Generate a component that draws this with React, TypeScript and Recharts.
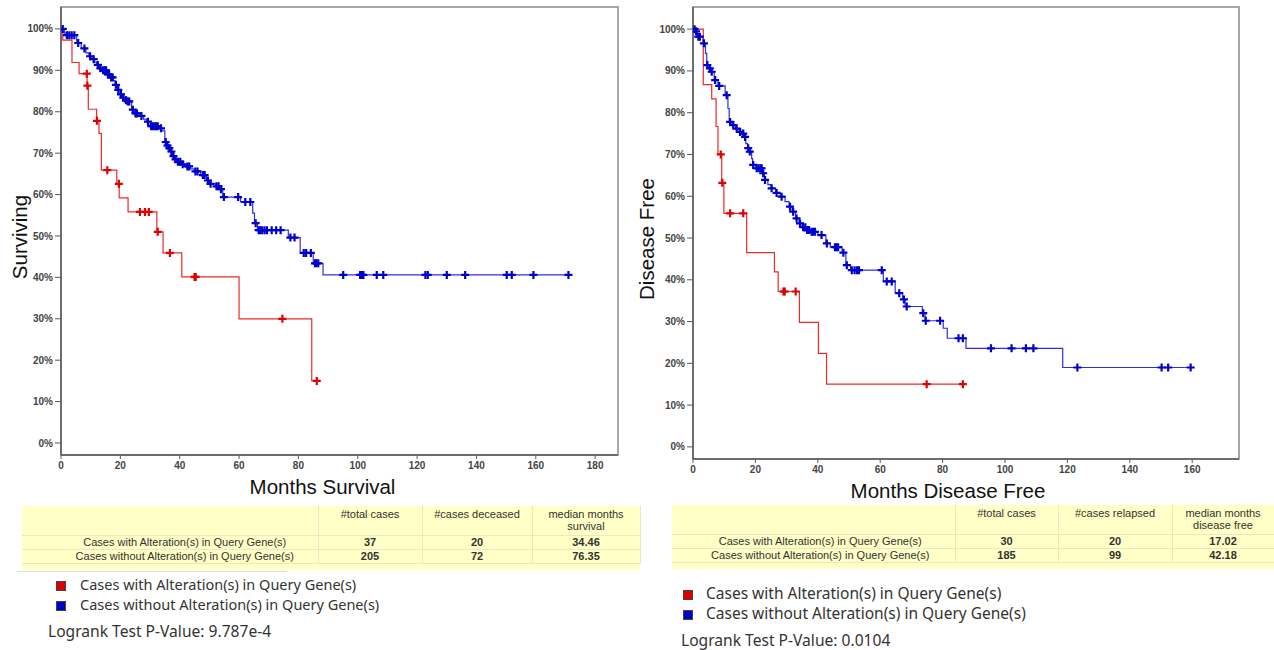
import React from "react";
import {
  ComposedChart,
  Line,
  Scatter,
  XAxis,
  YAxis,
  ReferenceArea,
} from "recharts";

// Kaplan-Meier curves as step points: [month, % surviving]
const osAlteredSteps: [number, number][] = [
  [0, 100], [0.6, 97.3], [3.7, 91.9], [6.1, 89.2], [8.8, 86.3], [9.2, 80.6],
  [12.0, 77.8], [12.8, 74.8], [13.6, 65.9], [18.8, 62.6], [19.6, 59.2],
  [22.6, 55.8], [32.3, 51.0], [34.4, 45.9], [40.7, 40.1], [60.0, 30.0],
  [84.5, 15.0], [86.2, 15.0],
];
const osAlteredCensored = [
  8.7, 8.9, 12.1, 15.6, 19.5, 26.6, 28.3, 29.6, 32.6, 36.7, 45.0, 45.4, 74.6, 86.2,
];

const osUnalteredSteps: [number, number][] = [
  [0, 100], [1.2, 99.0], [1.8, 98.5], [5.3, 96.6], [6.8, 95.3], [8.4, 94.2],
  [9.4, 93.4], [10.4, 92.7], [11.3, 92.0], [12.0, 91.3], [13.0, 90.5],
  [14.0, 90.0], [15.5, 89.0], [16.5, 88.3], [17.6, 87.5], [18.2, 86.5],
  [19.0, 85.3], [19.9, 84.2], [20.8, 83.4], [21.6, 82.8], [22.2, 82.5],
  [23.8, 80.5], [24.6, 79.6], [26.6, 79.0], [27.8, 78.2], [28.9, 77.6],
  [30.0, 76.5], [33.3, 76.0], [34.0, 75.4], [35.0, 72.7], [35.6, 71.8],
  [36.2, 71.2], [37.0, 70.4], [37.6, 69.3], [38.3, 68.5], [39.0, 67.9],
  [40.5, 67.3], [42.0, 66.8], [43.5, 66.2], [45.0, 65.6], [47.0, 64.7],
  [49.0, 63.4], [50.0, 62.6], [52.0, 62.0], [53.6, 61.3], [54.5, 59.4],
  [60.5, 58.2], [64.6, 55.5], [65.2, 53.1], [66.2, 51.4], [76.6, 49.6],
  [80.6, 45.9], [85.0, 43.4], [88.3, 40.6], [171.0, 40.6],
];
const osUnalteredCensored = [
  0.6, 2.0, 2.8, 3.6, 4.5, 5.8, 7.9, 9.8, 11.0, 12.4, 13.3, 14.2, 14.8, 15.2,
  15.8, 16.2, 16.9, 17.4, 18.5, 19.3, 20.2, 21.0, 21.9, 22.5, 23.0, 24.2, 25.1,
  25.6, 27.1, 29.3, 30.4, 30.9, 31.5, 32.0, 32.6, 33.7, 35.3, 35.9, 36.5, 37.2,
  37.9, 38.6, 39.4, 40.2, 41.0, 42.6, 43.2, 45.3, 46.0, 47.8, 48.4, 49.5, 50.4,
  52.4, 53.1, 53.9, 54.9, 59.7, 62.1, 63.8, 65.6, 66.6, 67.1, 67.8, 68.6, 69.4,
  71.0, 72.5, 74.0, 77.3, 78.7, 81.8, 82.6, 84.2, 85.6, 86.1, 86.7, 95.1, 100.8,
  101.4, 101.9, 106.4, 108.6, 122.8, 123.6, 130.0, 136.2, 150.2, 151.9, 159.2,
  171.0,
];

const dfsAlteredSteps: [number, number][] = [
  [0, 100], [3.3, 86.7], [6.0, 83.3], [7.4, 76.7], [8.0, 70.0], [9.2, 63.2],
  [9.9, 55.9], [17.2, 46.5], [26.1, 41.9], [27.3, 37.2], [34.1, 29.8],
  [40.2, 22.4], [42.8, 15.0], [86.5, 15.0],
];
const dfsAlteredCensored = [8.9, 9.4, 11.9, 16.1, 29.0, 29.4, 32.9, 74.9, 86.5];

const dfsUnalteredSteps: [number, number][] = [
  [0, 100], [0.8, 99.5], [1.5, 98.2], [3.2, 96.6], [4.0, 94.2], [4.4, 91.4],
  [5.2, 90.6], [5.8, 89.8], [6.8, 87.8], [8.0, 86.4], [10.3, 84.2],
  [11.2, 81.0], [11.6, 77.8], [12.5, 77.0], [13.6, 76.2], [14.8, 75.4],
  [15.8, 75.0], [16.5, 74.2], [16.9, 72.6], [17.5, 71.5], [18.0, 70.7],
  [18.8, 69.0], [19.1, 67.5], [20.2, 66.7], [22.3, 65.5], [22.9, 63.9],
  [24.0, 62.8], [25.0, 61.9], [26.5, 60.8], [28.0, 59.9], [29.5, 58.7],
  [30.8, 57.5], [31.8, 56.3], [32.9, 54.7], [34.0, 53.5], [35.0, 52.6],
  [36.5, 51.9], [37.8, 51.5], [40.0, 50.7], [42.6, 48.7], [44.0, 47.8],
  [47.8, 46.5], [49.0, 43.5], [50.5, 42.3], [61.0, 39.6], [64.8, 36.8],
  [67.2, 35.3], [68.0, 33.6], [73.5, 32.0], [74.4, 30.2], [80.2, 28.4],
  [81.5, 26.0], [87.5, 23.6], [118.5, 19.0], [159.5, 19.0],
];
const dfsUnalteredCensored = [
  0.5, 1.0, 1.7, 2.2, 3.5, 4.6, 5.4, 6.0, 7.1, 8.4, 10.8, 11.9, 12.9, 14.0,
  15.1, 16.1, 16.7, 17.7, 18.2, 19.3, 20.4, 21.0, 21.6, 22.0, 22.5, 23.1, 25.2,
  26.8, 28.4, 31.1, 32.1, 33.2, 34.3, 35.3, 36.0, 36.6, 37.2, 38.0, 38.5, 39.1,
  41.2, 42.9, 45.5, 46.0, 46.5, 48.2, 49.3, 50.9, 51.8, 52.6, 53.2, 60.5, 62.1,
  63.7, 66.1, 67.6, 68.5, 73.8, 74.6, 79.2, 85.1, 86.5, 95.5, 102.1, 106.7,
  109.1, 123.2, 150.2, 152.3, 159.5,
];

const percentTicks = [0, 10, 20, 30, 40, 50, 60, 70, 80, 90, 100];
const osMonthTicks = [0, 20, 40, 60, 80, 100, 120, 140, 160, 180];
const dfsMonthTicks = [0, 20, 40, 60, 80, 100, 120, 140, 160];

const groupLabels = [
  "Cases with Alteration(s) in Query Gene(s)",
  "Cases without Alteration(s) in Query Gene(s)",
];
const osHeaders = ["#total cases", "#cases deceased", "median months survival"];
const osRows = [
  ["37", "20", "34.46"],
  ["205", "72", "76.35"],
];
const dfsHeaders = ["#total cases", "#cases relapsed", "median months disease free"];
const dfsRows = [
  ["30", "20", "17.02"],
  ["185", "99", "42.18"],
];
const osPValue = "9.787e-4";
const dfsPValue = "0.0104";

const Y_DOMAIN: [number, number] = [-2.9, 105.3];
const RED = { line: "#ee2a2a", mark: "#e00000" };
const BLUE = { line: "#2f2fe0", mark: "#0000cc" };

const survivalAt = (steps: [number, number][], t: number) => {
  let s = steps[0][1];
  for (const [st, sv] of steps) {
    if (st <= t) s = sv;
    else break;
  }
  return s;
};

const censorShape = (color: string) => (props: any) => {
  const { cx, cy } = props;
  if (cx == null || cy == null) return <g />;
  return (
    <path
      d={`M${cx - 4},${cy}H${cx + 4}M${cx},${cy - 4}V${cy + 4}`}
      stroke={color}
      strokeWidth={2.2}
      fill="none"
    />
  );
};

type Curve = {
  id: string;
  steps: [number, number][];
  censored: number[];
  color: { line: string; mark: string };
};

type PanelProps = {
  left: number;
  width: number;
  height: number;
  yAxisWidth: number;
  marginRight: number;
  xMax: number;
  xTicks: number[];
  xTitle: string;
  xTitleDx: number;
  yTitle: string;
  yTitleX: number;
  curves: Curve[];
};

const tickStyle = {
  fontSize: 10,
  fontWeight: 700,
  fill: "#444",
  fontFamily: "'Liberation Sans', Arial, sans-serif",
};

function KaplanMeierPanel(p: PanelProps) {
  return (
    <div style={{ position: "absolute", left: p.left, top: 0 }}>
      <ComposedChart
        width={p.width}
        height={p.height}
        margin={{ top: 7, right: p.marginRight, left: 0, bottom: 0 }}
      >
        <XAxis
          type="number"
          dataKey="t"
          domain={[0, p.xMax]}
          allowDataOverflow
          ticks={p.xTicks}
          height={45}
          tick={tickStyle}
          tickSize={4}
          tickMargin={3}
          axisLine={{ stroke: "#5a5a5a", strokeWidth: 1.5 }}
          tickLine={{ stroke: "#5a5a5a" }}
          label={{
            content: ({ viewBox }: any) => (
              <text
                x={viewBox.x + viewBox.width / 2 + p.xTitleDx}
                y={viewBox.y + viewBox.height - 6}
                textAnchor="middle"
                fontSize={20.5}
                fill="#111"
                fontFamily="'Liberation Sans', Arial, sans-serif"
              >
                {p.xTitle}
              </text>
            ),
          }}
        />
        <YAxis
          type="number"
          dataKey="s"
          domain={Y_DOMAIN}
          allowDataOverflow
          ticks={percentTicks}
          tickFormatter={(v) => `${v}%`}
          width={p.yAxisWidth}
          tick={tickStyle}
          tickSize={6}
          tickMargin={2}
          axisLine={{ stroke: "#5a5a5a", strokeWidth: 1.5 }}
          tickLine={{ stroke: "#5a5a5a" }}
          label={{
            content: ({ viewBox }: any) => {
              const cy = viewBox.y + viewBox.height / 2 + 6;
              return (
                <text
                  x={p.yTitleX}
                  y={cy}
                  transform={`rotate(-90 ${p.yTitleX} ${cy})`}
                  textAnchor="middle"
                  dominantBaseline="central"
                  fontSize={20.5}
                  fill="#111"
                  fontFamily="'Liberation Sans', Arial, sans-serif"
                >
                  {p.yTitle}
                </text>
              );
            },
          }}
        />
        <ReferenceArea
          x1={0}
          x2={p.xMax}
          y1={Y_DOMAIN[0]}
          y2={Y_DOMAIN[1]}
          fill="none"
          stroke="#8c8c8c"
          strokeWidth={1.5}
        />
        {p.curves.map((c) => (
          <Line
            key={`${c.id}-line`}
            data={c.steps.map(([t, s]) => ({ t, s }))}
            dataKey="s"
            type="stepAfter"
            stroke={c.color.line}
            strokeWidth={1.2}
            dot={false}
            activeDot={false}
            isAnimationActive={false}
          />
        ))}
        {p.curves.map((c) => (
          <Scatter
            key={`${c.id}-censor`}
            data={c.censored.map((t) => ({ t, s: survivalAt(c.steps, t) }))}
            fill={c.color.mark}
            shape={censorShape(c.color.mark)}
            isAnimationActive={false}
          />
        ))}
      </ComposedChart>
    </div>
  );
}

type TableProps = {
  left: number;
  top: number;
  width: number;
  height: number;
  cols: number[];
  labelPad: number;
  headers: string[];
  rows: string[][];
};

function StatsTable(t: TableProps) {
  const cell: React.CSSProperties = {
    borderRight: "1px solid #e9e9c6",
    borderBottom: "1px solid #e9e9c6",
    textAlign: "center",
    padding: 0,
  };
  return (
    <div
      style={{
        position: "absolute",
        left: t.left,
        top: t.top,
        width: t.width,
        height: t.height,
        background: "#ffffc6",
        fontFamily: "'Liberation Sans', Arial, sans-serif",
        fontSize: 11,
        color: "#333",
      }}
    >
      <table style={{ borderCollapse: "collapse", tableLayout: "fixed", width: t.width }}>
        <colgroup>
          {t.cols.map((w, i) => (
            <col key={i} style={{ width: w }} />
          ))}
        </colgroup>
        <tbody>
          <tr style={{ height: 29 }}>
            <td style={cell} />
            {t.headers.map((h) => (
              <td
                key={h}
                style={{ ...cell, verticalAlign: "top", paddingTop: 2, lineHeight: "12px", paddingLeft: 8, paddingRight: 8 }}
              >
                {h}
              </td>
            ))}
          </tr>
          {t.rows.map((r, i) => (
            <tr key={i} style={{ height: 14 }}>
              <td style={{ ...cell, paddingLeft: t.labelPad, lineHeight: "13px" }}>
                {groupLabels[i]}
              </td>
              {r.map((v, j) => (
                <td key={j} style={{ ...cell, fontWeight: 700, lineHeight: "13px" }}>
                  {v}
                </td>
              ))}
            </tr>
          ))}
        </tbody>
      </table>
    </div>
  );
}

type LegendProps = {
  left: number;
  top: number;
  fontSize: number;
  gap: number;
  pIndent: number;
  pValue: string;
};

function LegendBlock({ left, top, fontSize, gap, pIndent, pValue }: LegendProps) {
  const font: React.CSSProperties = {
    fontFamily: "'Noto Sans', 'Open Sans', sans-serif",
    fontSize,
    color: "#333",
    whiteSpace: "nowrap",
  };
  const swatch = (bg: string): React.CSSProperties => ({
    display: "inline-block",
    width: 8,
    height: 8,
    background: bg,
    border: "1px solid #444",
    marginRight: gap,
    verticalAlign: "middle",
  });
  return (
    <div style={{ position: "absolute", left, top, ...font }}>
      <div style={{ height: 20, lineHeight: "20px", marginLeft: 9 }}>
        <span style={swatch("#e00000")} />
        {groupLabels[0]}
      </div>
      <div style={{ height: 20, lineHeight: "20px", marginLeft: 9 }}>
        <span style={swatch("#0000cc")} />
        {groupLabels[1]}
      </div>
      <div style={{ marginTop: 7, marginLeft: pIndent, lineHeight: "20px", fontSize: 15.6 }}>
        Logrank Test P-Value: {pValue}
      </div>
    </div>
  );
}

export default function App() {
  return (
    <div
      style={{
        position: "absolute",
        left: 0,
        top: 0,
        width: 1274,
        height: 650,
        background: "#fff",
        overflow: "hidden",
      }}
    >
      <KaplanMeierPanel
        left={0}
        width={640}
        height={500}
        yAxisWidth={61}
        marginRight={22}
        xMax={187.7}
        xTicks={osMonthTicks}
        xTitle="Months Survival"
        xTitleDx={-17}
        yTitle="Surviving"
        yTitleX={19}
        curves={[
          { id: "os-unaltered", steps: osUnalteredSteps, censored: osUnalteredCensored, color: BLUE },
          { id: "os-altered", steps: osAlteredSteps, censored: osAlteredCensored, color: RED },
        ]}
      />
      <KaplanMeierPanel
        left={630}
        width={644}
        height={504}
        yAxisWidth={63}
        marginRight={35}
        xMax={175}
        xTicks={dfsMonthTicks}
        xTitle="Months Disease Free"
        xTitleDx={-18}
        yTitle="Disease Free"
        yTitleX={16}
        curves={[
          { id: "dfs-unaltered", steps: dfsUnalteredSteps, censored: dfsUnalteredCensored, color: BLUE },
          { id: "dfs-altered", steps: dfsAlteredSteps, censored: dfsAlteredCensored, color: RED },
        ]}
      />
      <StatsTable
        left={22}
        top={506}
        width={618}
        height={64}
        cols={[296, 104, 110, 108]}
        labelPad={30}
        headers={osHeaders}
        rows={osRows}
      />
      <StatsTable
        left={672}
        top={505}
        width={602}
        height={64}
        cols={[283, 103, 114, 102]}
        labelPad={14}
        headers={dfsHeaders}
        rows={dfsRows}
      />
      <div style={{ position: "absolute", left: 17, top: 571, width: 270, height: 1, background: "#dedede" }} />
      <LegendBlock left={47} top={574} fontSize={14.5} gap={14} pIndent={1} pValue={osPValue} />
      <LegendBlock left={674} top={583} fontSize={15.5} gap={13} pIndent={7} pValue={dfsPValue} />
    </div>
  );
}
